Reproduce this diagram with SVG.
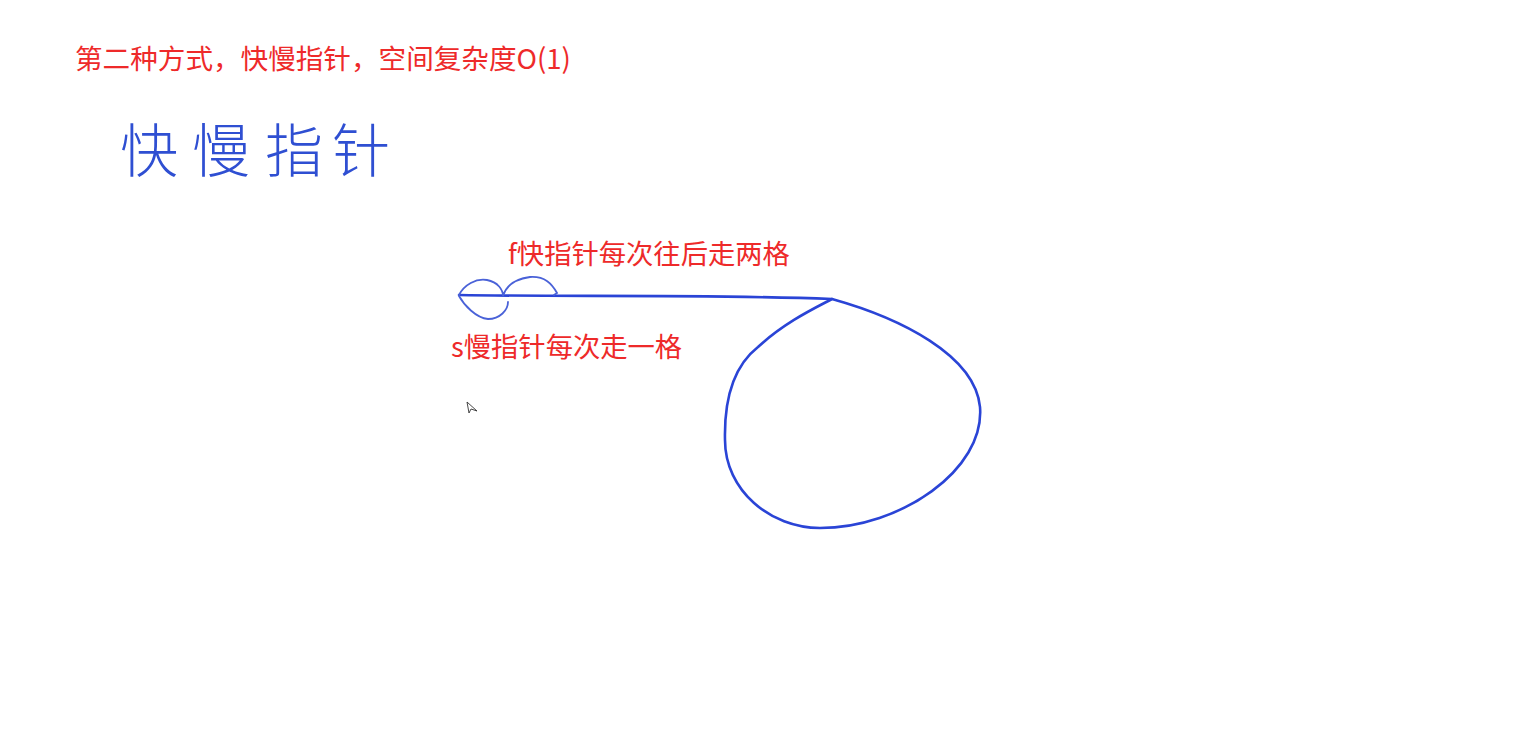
<svg xmlns="http://www.w3.org/2000/svg" width="1514" height="753" viewBox="0 0 1514 753">
<style>
.red{fill:#ee2a2a;font-family:"Noto Sans CJK SC","Liberation Sans",sans-serif;}
.hand{fill:#2f4fd2;font-family:"Noto Sans CJK SC",sans-serif;font-weight:200;font-size:58px;}
.ink{fill:none;stroke:#2a44d6;stroke-width:2.6;stroke-linecap:round;stroke-linejoin:round;}
.ink2{fill:none;stroke:#4a62d8;stroke-width:1.8;stroke-linecap:round;}
</style>
<rect width="1514" height="753" fill="#ffffff"/>
<g id="title"><text class="red" x="75" y="69" font-size="27.6">第二种方式，快慢指针，空间复杂度O(1)</text></g>
<g id="handwriting"><text class="hand" x="120 192 265 332" y="172">快慢指针</text></g>
<g id="label-fast"><text class="red" x="508" y="264" font-size="27.3">f快指针每次往后走两格</text></g>
<g id="label-slow"><text class="red" x="451" y="357" font-size="27.3">s慢指针每次走一格</text></g>
<g id="connectors">
<path class="ink" d="M459,295 C560,297 700,294 832,299"/>
<path class="ink" d="M832,299 C900,318 975,355 980,407 C985,470 900,528 820,528 C770,528 725,490 725,440 C724,395 735,365 758,347 C785,322 815,308 832,299"/>
<path class="ink2" d="M459,295 C464,285 476,278 487,280 C498,282 503,290 503,296 C506,286 515,279 530,277 C545,276 552,284 557,293 L554,295"/>
<path class="ink2" d="M459,296 C464,305 476,318 488,319 C500,319 508,310 508,302"/>
</g>
<g id="cursor"><path d="M467,402 L469,413 L471,409 L477,411 Z" fill="#ffffff" stroke="#333" stroke-width="0.9" stroke-linejoin="round"/></g>
</svg>
